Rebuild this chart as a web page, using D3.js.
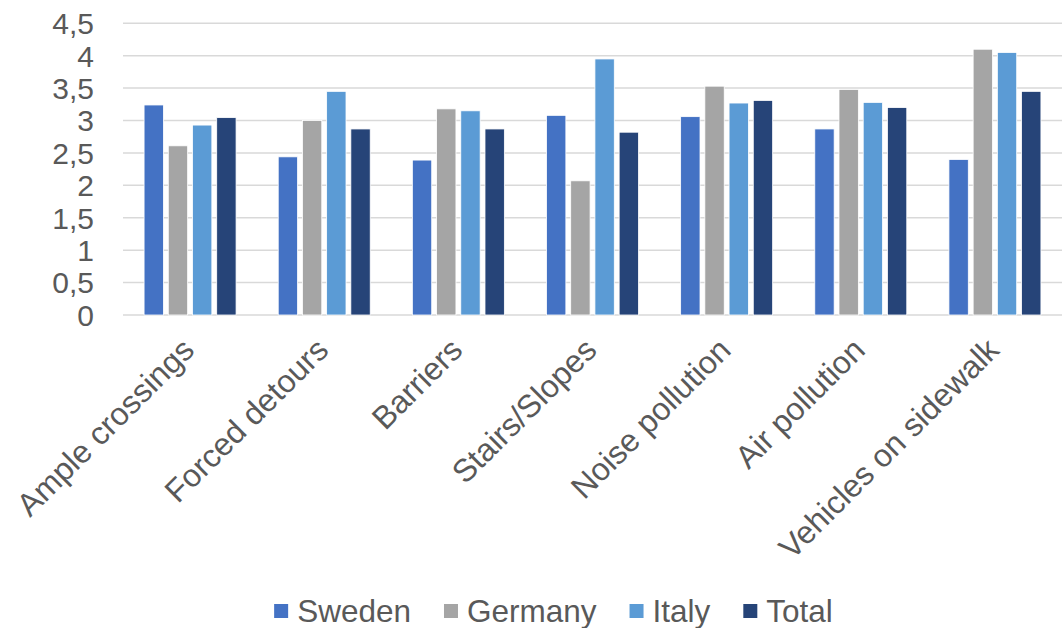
<!DOCTYPE html>
<html>
<head>
<meta charset="utf-8">
<script src="https://cdn.jsdelivr.net/npm/d3@7"></script>
<style>
  html, body { margin: 0; padding: 0; background: #ffffff; }
  svg { display: block; }
  text { font-family: "Liberation Sans", Arial, sans-serif; fill: #595959; }
</style>
</head>
<body>
<svg id="chart" width="1064" height="628"></svg>
<script>
const categories = ["Ample crossings", "Forced detours", "Barriers", "Stairs/Slopes", "Noise pollution", "Air pollution", "Vehicles on sidewalk"];
const seriesNames = ["Sweden", "Germany", "Italy", "Total"];
const sweden  = [3.24, 2.44, 2.39, 3.08, 3.06, 2.87, 2.40];
const germany = [2.61, 3.00, 3.18, 2.07, 3.53, 3.48, 4.10];
const italy   = [2.93, 3.45, 3.15, 3.95, 3.27, 3.28, 4.05];
const total   = [3.045, 2.87, 2.87, 2.82, 3.31, 3.20, 3.45];
const yTicks  = [0, 0.5, 1, 1.5, 2, 2.5, 3, 3.5, 4, 4.5];
const colors  = ["#4472C4", "#A5A5A5", "#5B9BD5", "#264478"];

const seriesValues = [sweden, germany, italy, total];

const svg = d3.select("#chart");
const plotLeft = 123, plotRight = 1062, plotTop = 23.3, plotBottom = 315;

const y = d3.scaleLinear().domain([0, 4.5]).range([plotBottom, plotTop]);
const x0 = d3.scaleBand().domain(categories).range([plotLeft, plotRight]).padding(0);
const groupW = 92;
const x1 = d3.scaleBand().domain(seriesNames).range([0, groupW]).paddingInner(0.2).paddingOuter(0);

// gridlines
svg.append("g").selectAll("line").data(yTicks).join("line")
  .attr("x1", plotLeft).attr("x2", plotRight)
  .attr("y1", d => y(d)).attr("y2", d => y(d))
  .attr("stroke", "#d9d9d9").attr("stroke-width", 1.5);

// y axis labels
const fmt = d => String(d).replace(".", ",");
svg.append("g").selectAll("text").data(yTicks).join("text")
  .attr("x", 94).attr("y", d => y(d))
  .attr("dy", "0.36em")
  .attr("text-anchor", "end")
  .attr("font-size", 30)
  .text(fmt);

// bars
const data = [];
categories.forEach((c, i) => {
  seriesNames.forEach((s, j) => {
    data.push({ cat: c, series: s, value: seriesValues[j][i], color: colors[j] });
  });
});
const off = (x0.bandwidth() - groupW) / 2;
svg.append("g").selectAll("rect").data(data).join("rect")
  .attr("x", d => x0(d.cat) + off + x1(d.series))
  .attr("y", d => y(d.value))
  .attr("width", x1.bandwidth())
  .attr("height", d => y(0) - y(d.value))
  .attr("fill", d => d.color)
  .attr("stroke", "#ffffff").attr("stroke-width", 0.8);

// x labels
svg.append("g").selectAll("text").data(categories).join("text")
  .attr("transform", d => `translate(${x0(d) + x0.bandwidth() / 2 + 6}, 352) rotate(-45)`)
  .attr("text-anchor", "end")
  .attr("font-size", 32)
  .text(d => d);

// legend
const legend = svg.append("g");
const items = legend.selectAll("g").data(seriesNames).join("g");
items.append("rect").attr("width", 14).attr("height", 14).attr("y", -7)
  .attr("fill", (d, i) => colors[i]);
items.append("text").attr("x", 23).attr("dy", "0.36em").attr("font-size", 31.5).text(d => d);
let cx = 0;
const positions = [];
items.each(function (d) {
  const w = d3.select(this).select("text").node().getComputedTextLength();
  positions.push(cx);
  cx += 23 + w + 33;
});
const totalW = cx - 33;
const startX = 553.5 - totalW / 2;
items.attr("transform", (d, i) => `translate(${startX + positions[i]}, 611)`);
</script>
</body>
</html>
